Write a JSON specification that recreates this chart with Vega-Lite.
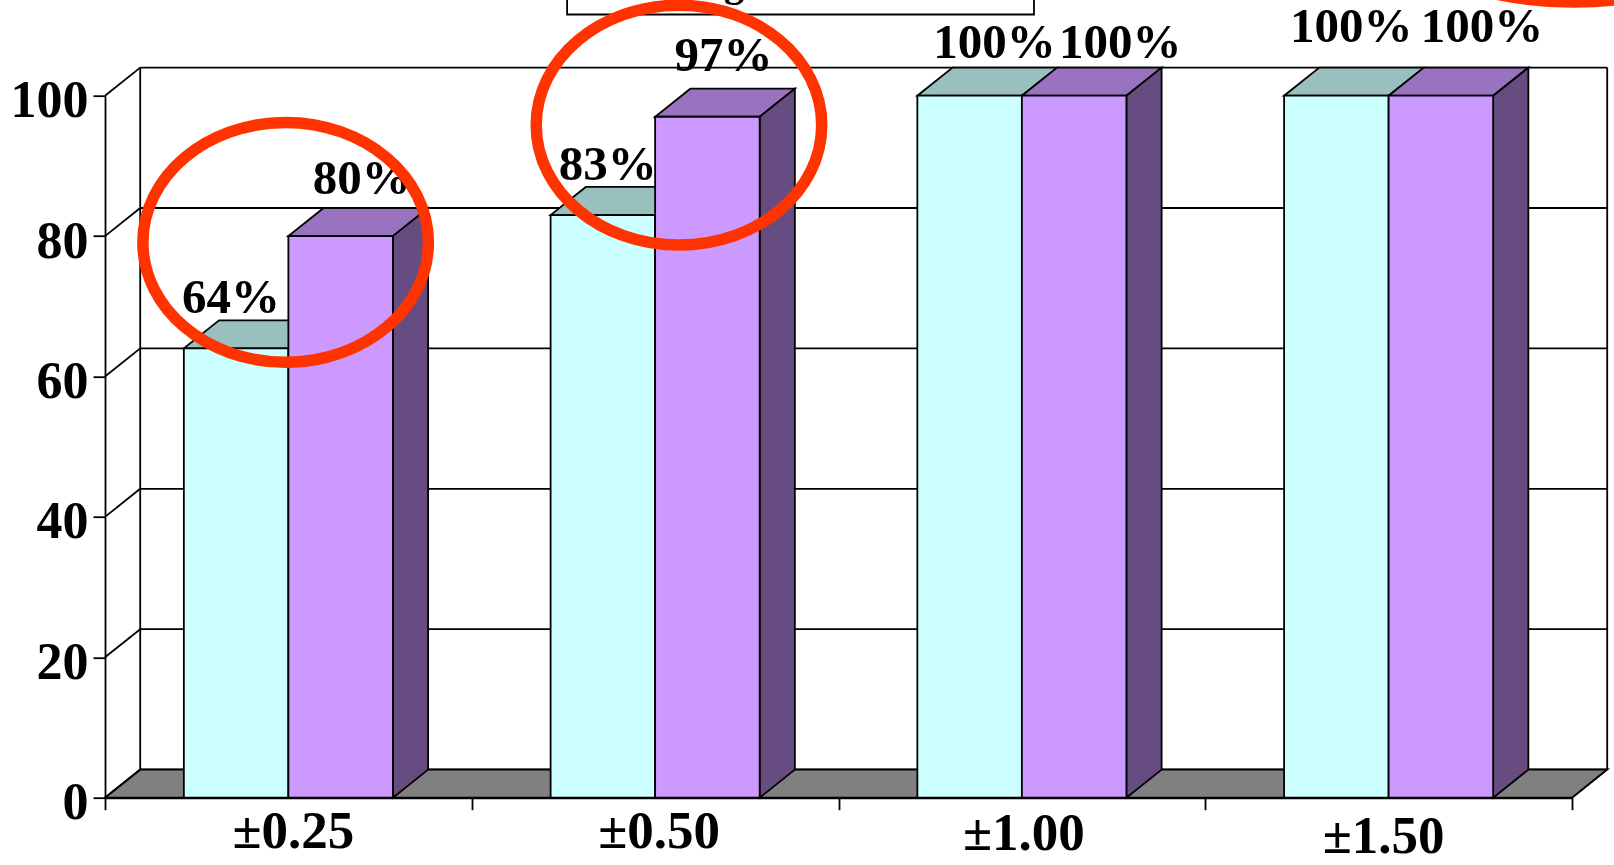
{
  "$schema": "https://vega.github.io/schema/vega-lite/v6.json",
  "width": 1467,
  "height": 702,
  "autosize": {"type": "none"},
  "padding": {"left": 105, "top": 95.7, "right": 42, "bottom": 67.3},
  "background": "white",
  "datasets": {
    "bars": [
      {"tolerance": "±0.25", "series": "A", "value": 64},
      {"tolerance": "±0.25", "series": "B", "value": 80},
      {"tolerance": "±0.50", "series": "A", "value": 83},
      {"tolerance": "±0.50", "series": "B", "value": 97},
      {"tolerance": "±1.00", "series": "A", "value": 100},
      {"tolerance": "±1.00", "series": "B", "value": 100},
      {"tolerance": "±1.50", "series": "A", "value": 100},
      {"tolerance": "±1.50", "series": "B", "value": 100}
    ],
    "ticks": [{"tick": 0}, {"tick": 20}, {"tick": 40}, {"tick": 60}, {"tick": 80}, {"tick": 100}],
    "floor": [
      {"px": 0, "lo": 0, "hi": 0},
      {"px": 0.096, "lo": 0, "hi": 4},
      {"px": 4, "lo": 0, "hi": 4},
      {"px": 4.096, "lo": 4, "hi": 4}
    ],
    "box": [{"px": 1.26, "px2": 2.533, "py": 111.57, "py2": 118}],
    "boxText": [{"px": 1.715, "py": 114.2, "t": "g"}],
    "rings": [{"px": 0.4925, "py": 79.1}, {"px": 1.565, "py": 95.8}],
    "flatRing": [{"px": 4.005, "py": 127.6}]
  },
  "config": {"view": {"stroke": null}},
  "resolve": {"scale": {"x": "independent", "fill": "independent"}},
  "layer": [
    {
      "layer": [
        {
          "description": "back wall lines, with the value axis and the category boundary ticks",
          "data": {"name": "ticks"},
          "transform": [{"calculate": "datum.tick + 4", "as": "backY"}],
          "mark": {"type": "rule", "color": "black", "strokeWidth": 1.8},
          "encoding": {
            "x": {
              "datum": 0.096, "type": "quantitative", "scale": {"domain": [0, 4]},
              "axis": {
                "orient": "bottom", "values": [0, 1, 2, 3, 4], "title": null, "labels": false, "grid": false,
                "domainColor": "black", "domainWidth": 2, "tickColor": "black", "tickWidth": 1.8, "tickSize": 12
              }
            },
            "x2": {"datum": 4.096},
            "y": {"field": "backY", "type": "quantitative", "scale": {"domain": [0, 100], "nice": false},
              "axis": {
                "values": [0, 20, 40, 60, 80, 100], "title": null, "grid": false,
                "domainColor": "black", "domainWidth": 1.8, "tickColor": "black", "tickWidth": 1.8, "tickSize": 12,
                "labelFont": "Liberation Serif", "labelFontWeight": "bold", "labelFontSize": 52, "labelColor": "black",
                "labelPadding": 5, "labelOffset": 5, "labelBound": false, "labelFlush": false, "labelOverlap": false
              }
            }
          }
        },
        {
          "description": "side wall diagonals",
          "data": {"name": "ticks"},
          "transform": [{"calculate": "datum.tick + 4", "as": "backY"}],
          "mark": {"type": "rule", "color": "black", "strokeWidth": 1.8},
          "encoding": {
            "x": {"datum": 0, "type": "quantitative", "scale": {"domain": [0, 4]}},
            "x2": {"datum": 0.096},
            "y": {"field": "tick", "type": "quantitative", "scale": {"domain": [0, 100], "nice": false}},
            "y2": {"field": "backY"}
          }
        },
        {
          "description": "rear verticals at both ends of the wall",
          "data": {"values": [{"px": 0.096}, {"px": 4.096}]},
          "mark": {"type": "rule", "color": "black", "strokeWidth": 1.8},
          "encoding": {
            "x": {"field": "px", "type": "quantitative", "scale": {"domain": [0, 4]}},
            "y": {"datum": 4, "type": "quantitative", "scale": {"domain": [0, 100], "nice": false}},
            "y2": {"datum": 104}
          }
        },
        {
          "description": "grey floor",
          "data": {"name": "floor"},
          "mark": {"type": "area", "fill": "#808080", "stroke": "black", "strokeWidth": 2, "orient": "vertical"},
          "encoding": {
            "x": {"field": "px", "type": "quantitative", "scale": {"domain": [0, 4]}},
            "y": {"field": "lo", "type": "quantitative", "stack": null, "scale": {"domain": [0, 100], "nice": false}},
            "y2": {"field": "hi"}
          }
        },
        {
          "description": "top faces of the bars",
          "data": {"name": "bars"},
          "transform": [
            {"calculate": "indexof(['±0.25','±0.50','±1.00','±1.50'], datum.tolerance) + (datum.series === 'A' ? 0.215 : 0.5)", "as": "left"},
            {"calculate": "datum.left + 0.285", "as": "right"},
            {"calculate": "[datum.left, datum.left + 0.096, datum.right, datum.right + 0.096]", "as": "fx"},
            {"calculate": "[datum.value, datum.value, datum.value, datum.value + 4]", "as": "lo"},
            {"calculate": "[datum.value, datum.value + 4, datum.value + 4, datum.value + 4]", "as": "hi"},
            {"flatten": ["fx", "lo", "hi"]}
          ],
          "mark": {"type": "area", "stroke": "black", "strokeWidth": 1.8, "orient": "vertical"},
          "encoding": {
            "x": {"field": "fx", "type": "quantitative", "scale": {"domain": [0, 4]}},
            "y": {"field": "lo", "type": "quantitative", "stack": null, "scale": {"domain": [0, 100], "nice": false}},
            "y2": {"field": "hi"},
            "detail": {"field": "tolerance"},
            "fill": {"field": "series", "type": "nominal", "legend": null, "scale": {"domain": ["A", "B"], "range": ["#99BFBF", "#9973BF"]}}
          }
        },
        {
          "description": "right-hand side faces of the second series",
          "data": {"name": "bars"},
          "transform": [
            {"filter": "datum.series === 'B'"},
            {"calculate": "indexof(['±0.25','±0.50','±1.00','±1.50'], datum.tolerance) + 0.785", "as": "right"},
            {"calculate": "[datum.right, datum.right + 0.096]", "as": "fx"},
            {"calculate": "[0, 4]", "as": "lo"},
            {"calculate": "[datum.value, datum.value + 4]", "as": "hi"},
            {"flatten": ["fx", "lo", "hi"]}
          ],
          "mark": {"type": "area", "fill": "#664C80", "stroke": "black", "strokeWidth": 1.8, "orient": "vertical"},
          "encoding": {
            "x": {"field": "fx", "type": "quantitative", "scale": {"domain": [0, 4]}},
            "y": {"field": "lo", "type": "quantitative", "stack": null, "scale": {"domain": [0, 100], "nice": false}},
            "y2": {"field": "hi"},
            "detail": {"field": "tolerance"}
          }
        }
      ]
    },
    {
      "layer": [
        {
          "description": "front faces with the category labels",
          "data": {"name": "bars"},
          "mark": {"type": "bar", "stroke": "black", "strokeWidth": 1.8},
          "encoding": {
            "x": {
              "field": "tolerance", "type": "nominal", "sort": null,
              "scale": {"paddingInner": 0.43, "paddingOuter": 0.215},
              "axis": {
                "orient": "bottom", "title": null, "labelAngle": 0, "ticks": false, "domain": false,
                "labelFont": "Liberation Serif", "labelFontWeight": "bold", "labelFontSize": 53, "labelColor": "black",
                "labelOverlap": false, "labelBound": false, "labelFlush": false,
                "labelOffset": {"condition": [
                  {"test": "datum.value === '±0.25'", "value": 5},
                  {"test": "datum.value === '±0.50'", "value": 4},
                  {"test": "datum.value === '±1.00'", "value": 2}
                ], "value": -5},
                "labelPadding": {"condition": [
                  {"test": "datum.value === '±1.00'", "value": 10},
                  {"test": "datum.value === '±1.50'", "value": 13}
                ], "value": 8}
              }
            },
            "xOffset": {"field": "series", "type": "nominal"},
            "y": {"field": "value", "type": "quantitative", "stack": null, "scale": {"domain": [0, 100], "nice": false}},
            "fill": {"field": "series", "type": "nominal", "legend": null, "scale": {"domain": ["A", "B"], "range": ["#CCFFFF", "#CC99FF"]}}
          }
        },
        {
          "description": "percentage labels, each nudged clear of the bar tops",
          "data": {"name": "bars"},
          "transform": [{"calculate": "datum.value + '%'", "as": "pct"}],
          "mark": {
            "type": "text", "font": "Liberation Serif", "fontWeight": "bold", "fontSize": 49, "color": "black",
            "baseline": "alphabetic", "align": "center",
            "dx": {"expr": "({'±0.25A': -5, '±0.25B': 21, '±0.50A': 5, '±0.50B': 16, '±1.00A': 25, '±1.00B': 46, '±1.50A': 15, '±1.50B': 41})[datum.tolerance + datum.series]"},
            "dy": {"expr": "({'±0.25A': -35, '±0.25B': -42, '±0.50A': -35, '±0.50B': -46, '±1.00A': -38, '±1.00B': -38, '±1.50A': -54, '±1.50B': -54})[datum.tolerance + datum.series]"}
          },
          "encoding": {
            "x": {"field": "tolerance", "type": "nominal", "sort": null, "scale": {"paddingInner": 0.43, "paddingOuter": 0.215}},
            "xOffset": {"field": "series", "type": "nominal"},
            "y": {"field": "value", "type": "quantitative", "stack": null, "scale": {"domain": [0, 100], "nice": false}},
            "text": {"field": "pct"}
          }
        }
      ]
    },
    {
      "layer": [
        {
          "description": "legend box, cropped by the top edge",
          "data": {"name": "box"},
          "mark": {"type": "rect", "fill": "white", "stroke": "black", "strokeWidth": 1.8},
          "encoding": {
            "x": {"field": "px", "type": "quantitative", "scale": {"domain": [0, 4]}, "axis": null},
            "x2": {"field": "px2"},
            "y": {"field": "py", "type": "quantitative", "scale": {"domain": [0, 100], "nice": false}},
            "y2": {"field": "py2"}
          }
        },
        {
          "data": {"name": "boxText"},
          "mark": {"type": "text", "font": "Liberation Serif", "fontWeight": "bold", "fontSize": 40, "color": "black", "baseline": "alphabetic"},
          "encoding": {
            "x": {"field": "px", "type": "quantitative", "scale": {"domain": [0, 4]}, "axis": null},
            "y": {"field": "py", "type": "quantitative", "scale": {"domain": [0, 100], "nice": false}},
            "text": {"field": "t"}
          }
        },
        {
          "description": "red highlight rings",
          "data": {"name": "rings"},
          "mark": {
            "type": "point", "filled": false, "stroke": "#FF3300", "strokeWidth": 11.5, "opacity": 1, "size": 81510,
            "shape": "M1,0 C1,0.464 0.552,0.84 0,0.84 C-0.552,0.84 -1,0.464 -1,0 C-1,-0.464 -0.552,-0.84 0,-0.84 C0.552,-0.84 1,-0.464 1,0 Z"
          },
          "encoding": {
            "x": {"field": "px", "type": "quantitative", "scale": {"domain": [0, 4]}, "axis": null},
            "y": {"field": "py", "type": "quantitative", "scale": {"domain": [0, 100], "nice": false}}
          }
        },
        {
          "description": "flatter ring running off the top right corner",
          "data": {"name": "flatRing"},
          "mark": {
            "type": "point", "filled": false, "stroke": "#FF3300", "strokeWidth": 11.5, "opacity": 1, "size": 160000,
            "shape": "M1,0 C1,0.276 0.552,0.5 0,0.5 C-0.552,0.5 -1,0.276 -1,0 C-1,-0.276 -0.552,-0.5 0,-0.5 C0.552,-0.5 1,-0.276 1,0 Z"
          },
          "encoding": {
            "x": {"field": "px", "type": "quantitative", "scale": {"domain": [0, 4]}, "axis": null},
            "y": {"field": "py", "type": "quantitative", "scale": {"domain": [0, 100], "nice": false}}
          }
        }
      ]
    }
  ]
}
